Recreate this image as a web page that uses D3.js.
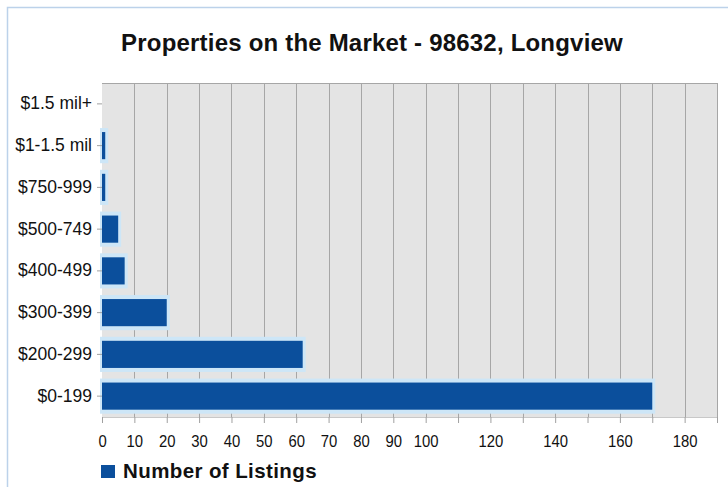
<!DOCTYPE html>
<html>
<head>
<meta charset="utf-8">
<script src="https://cdn.jsdelivr.net/npm/d3@7/dist/d3.min.js"></script>
<style>
  html, body { margin: 0; padding: 0; background: #ffffff; }
  svg { display: block; }
</style>
</head>
<body>
<svg id="chart" width="728" height="487"></svg>
<script>
const title = "Properties on the Market - 98632, Longview";
const seriesName = "Number of Listings";
const categories = ["$1.5 mil+", "$1-1.5 mil", "$750-999", "$500-749", "$400-499", "$300-399", "$200-299", "$0-199"];
const listings = [0, 1, 1, 5, 7, 20, 62, 170];
const xTicks = [0, 10, 20, 30, 40, 50, 60, 70, 80, 90, 100, 110, 120, 130, 140, 150, 160, 170, 180, 190];
const xTickLabels = [0, 10, 20, 30, 40, 50, 60, 70, 80, 90, 100, 120, 140, 160, 180];
const xMax = 190;

const svg = d3.select("#chart");
const plot = { left: 102, right: 717, top: 83, bottom: 417 };

// outer frame
svg.append("rect")
  .attr("x", 7.5).attr("y", 7.5)
  .attr("width", 800).attr("height", 600)
  .attr("fill", "#ffffff")
  .attr("stroke", "#bcd2ea").attr("stroke-width", 1.5);

// title
svg.append("text")
  .attr("x", 372).attr("y", 51)
  .attr("text-anchor", "middle")
  .attr("font-family", "'Liberation Sans', Arial, sans-serif")
  .attr("font-weight", "bold")
  .attr("font-size", 24)
  .attr("letter-spacing", 0.2)
  .attr("fill", "#111111")
  .text(title);

const x = d3.scaleLinear().domain([0, xMax]).range([plot.left, plot.right]);
const y = d3.scaleBand().domain(categories).range([plot.top, plot.bottom])
  .paddingInner(0.35).paddingOuter(0.175);

// plot background
svg.append("rect")
  .attr("x", plot.left).attr("y", plot.top)
  .attr("width", plot.right - plot.left).attr("height", plot.bottom - plot.top)
  .attr("fill", "#e4e4e4");

// gridlines
svg.append("g").selectAll("line")
  .data(xTicks.filter(d => d > 0))
  .join("line")
  .attr("x1", d => Math.round(x(d)) + 0.5).attr("x2", d => Math.round(x(d)) + 0.5)
  .attr("y1", plot.top).attr("y2", plot.bottom)
  .attr("stroke", "#a6a6a6").attr("stroke-width", 1);

// plot top border
svg.append("line")
  .attr("x1", plot.left).attr("x2", plot.right)
  .attr("y1", plot.top + 0.5).attr("y2", plot.top + 0.5)
  .attr("stroke", "#a6a6a6");

// bars with halo
const bars = svg.append("g");
const data = categories.map((c, i) => ({ c, v: listings[i] })).filter(d => d.v > 0);
bars.selectAll("rect.halo")
  .data(data)
  .join("rect")
  .attr("class", "halo")
  .attr("x", x(0) - 2)
  .attr("y", d => y(d.c) - 4)
  .attr("width", d => x(d.v) - x(0) + 5)
  .attr("height", y.bandwidth() + 8)
  .attr("fill", "#cde6f7");
bars.selectAll("rect.bar")
  .data(data)
  .join("rect")
  .attr("class", "bar")
  .attr("x", x(0))
  .attr("y", d => y(d.c))
  .attr("width", d => x(d.v) - x(0))
  .attr("height", y.bandwidth())
  .attr("fill", "#0b4f9c");

// x axis
const xAxis = d3.axisBottom(x)
  .tickValues(xTicks)
  .tickSize(6)
  .tickPadding(4)
  .tickFormat(d => xTickLabels.includes(d) ? String(d) : "");
const gx = svg.append("g")
  .attr("transform", `translate(0,${plot.bottom})`)
  .call(xAxis);
gx.select(".domain").attr("stroke", "#c8c8c8");
gx.selectAll(".tick line").attr("stroke", "#a0a0a0");
gx.selectAll(".tick text")
  .attr("font-family", "'Liberation Sans', Arial, sans-serif")
  .attr("font-size", 16.5)
  .attr("fill", "#111111")
  .attr("y", 0).attr("dy", null)
  .attr("transform", "translate(0,30) scale(0.9,1)");

// y axis
const yAxis = d3.axisLeft(y).tickSize(5).tickPadding(5);
const gy = svg.append("g")
  .attr("transform", `translate(${plot.left},0)`)
  .call(yAxis);
gy.select(".domain").remove();
gy.selectAll(".tick line").attr("stroke", "#a0a0a0");
gy.selectAll(".tick text")
  .attr("font-family", "'Liberation Sans', Arial, sans-serif")
  .attr("font-size", 17.5)
  .attr("fill", "#111111");

// legend
const lg = svg.append("g").attr("transform", "translate(101,465)");
lg.append("rect")
  .attr("x", 0).attr("y", 0).attr("width", 14).attr("height", 13)
  .attr("fill", "#0b4f9c");
lg.append("text")
  .attr("x", 22).attr("y", 13)
  .attr("font-family", "'Liberation Sans', Arial, sans-serif")
  .attr("font-weight", "bold")
  .attr("font-size", 20.5)
  .attr("letter-spacing", 0.4)
  .attr("fill", "#111111")
  .text(seriesName);
</script>
</body>
</html>
